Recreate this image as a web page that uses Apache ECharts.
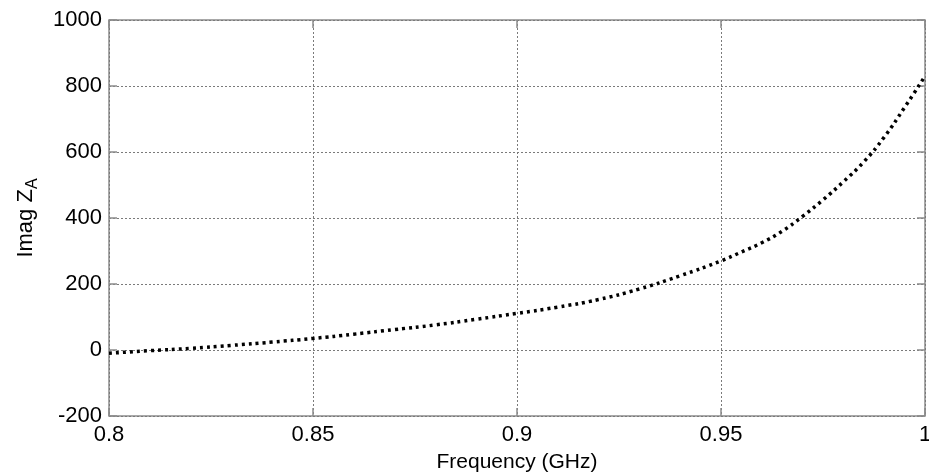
<!DOCTYPE html>
<html><head><meta charset="utf-8">
<script src="https://cdn.jsdelivr.net/npm/echarts@6/dist/echarts.min.js"></script>
<style>html,body{margin:0;padding:0;background:#fff}#c{width:929px;height:475px}</style>
</head><body><div id="c"></div>
<script>
const freq = [0.80,0.81,0.82,0.83,0.84,0.85,0.86,0.87,0.88,0.89,0.90,0.91,0.92,0.93,0.94,0.95,0.955,0.96,0.965,0.97,0.975,0.98,0.985,0.99,0.995,1.0];
const imagZ = [-10,-2,5,14,24,35,48,62,76,93,111,130,153,185,225,270,297,325,360,405,455,510,570,645,735,830];
const xTicks = [0.8,0.85,0.9,0.95,1];
const yTicks = [-200,0,200,400,600,800,1000];
const font = 'Liberation Sans, Arial, sans-serif';
const chart = echarts.init(document.getElementById('c'));
const gridLine = {show:true, lineStyle:{color:'#7a7a7a', type:[2,2], width:1}};
const tick = {show:true, inside:true, length:8, lineStyle:{color:'#8c8c8c', width:1.5}};
chart.setOption({
  animation:false,
  grid:{left:109, right:4, top:20, bottom:59, show:true, borderColor:'#8c8c8c', borderWidth:1.5,
    outerBoundsMode:'none', containLabel:false},
  xAxis:[{
    type:'value', min:0.8, max:1, interval:0.05,
    axisLine:{show:false, onZero:false},
    axisTick:tick,
    splitLine:gridLine,
    axisLabel:{color:'#000', fontSize:22, fontFamily:font, margin:8,
      formatter:v=>String(parseFloat(v.toFixed(2)))},
    name:'Frequency (GHz)', nameLocation:'middle', nameGap:36,
    nameTextStyle:{color:'#000', fontSize:21, fontFamily:font}
  },{
    type:'value', position:'top', min:0.8, max:1, interval:0.05,
    axisLine:{show:false, onZero:false}, axisLabel:{show:false}, splitLine:{show:false},
    axisTick:tick
  }],
  yAxis:[{
    type:'value', min:-200, max:1000, interval:200,
    axisLine:{show:false, onZero:false},
    axisTick:tick,
    splitLine:gridLine,
    axisLabel:{color:'#000', fontSize:22, fontFamily:font, margin:7, formatter:v=>String(v)},
    name:'Imag Z{sub|A}', nameLocation:'middle', nameGap:68,
    nameTextStyle:{color:'#000', fontSize:22, fontFamily:font,
      rich:{sub:{fontSize:16, fontFamily:font, color:'#000', verticalAlign:'bottom', padding:[14,0,0,0]}}}
  },{
    type:'value', position:'right', min:-200, max:1000, interval:200,
    axisLine:{show:false, onZero:false}, axisLabel:{show:false}, splitLine:{show:false},
    axisTick:tick
  }],
  series:[{
    type:'line', data:freq.map((f,i)=>[f,imagZ[i]]), smooth:true, symbol:'none',
    lineStyle:{color:'#000', width:3.5, type:[3,4]}
  }]
});
</script></body></html>
